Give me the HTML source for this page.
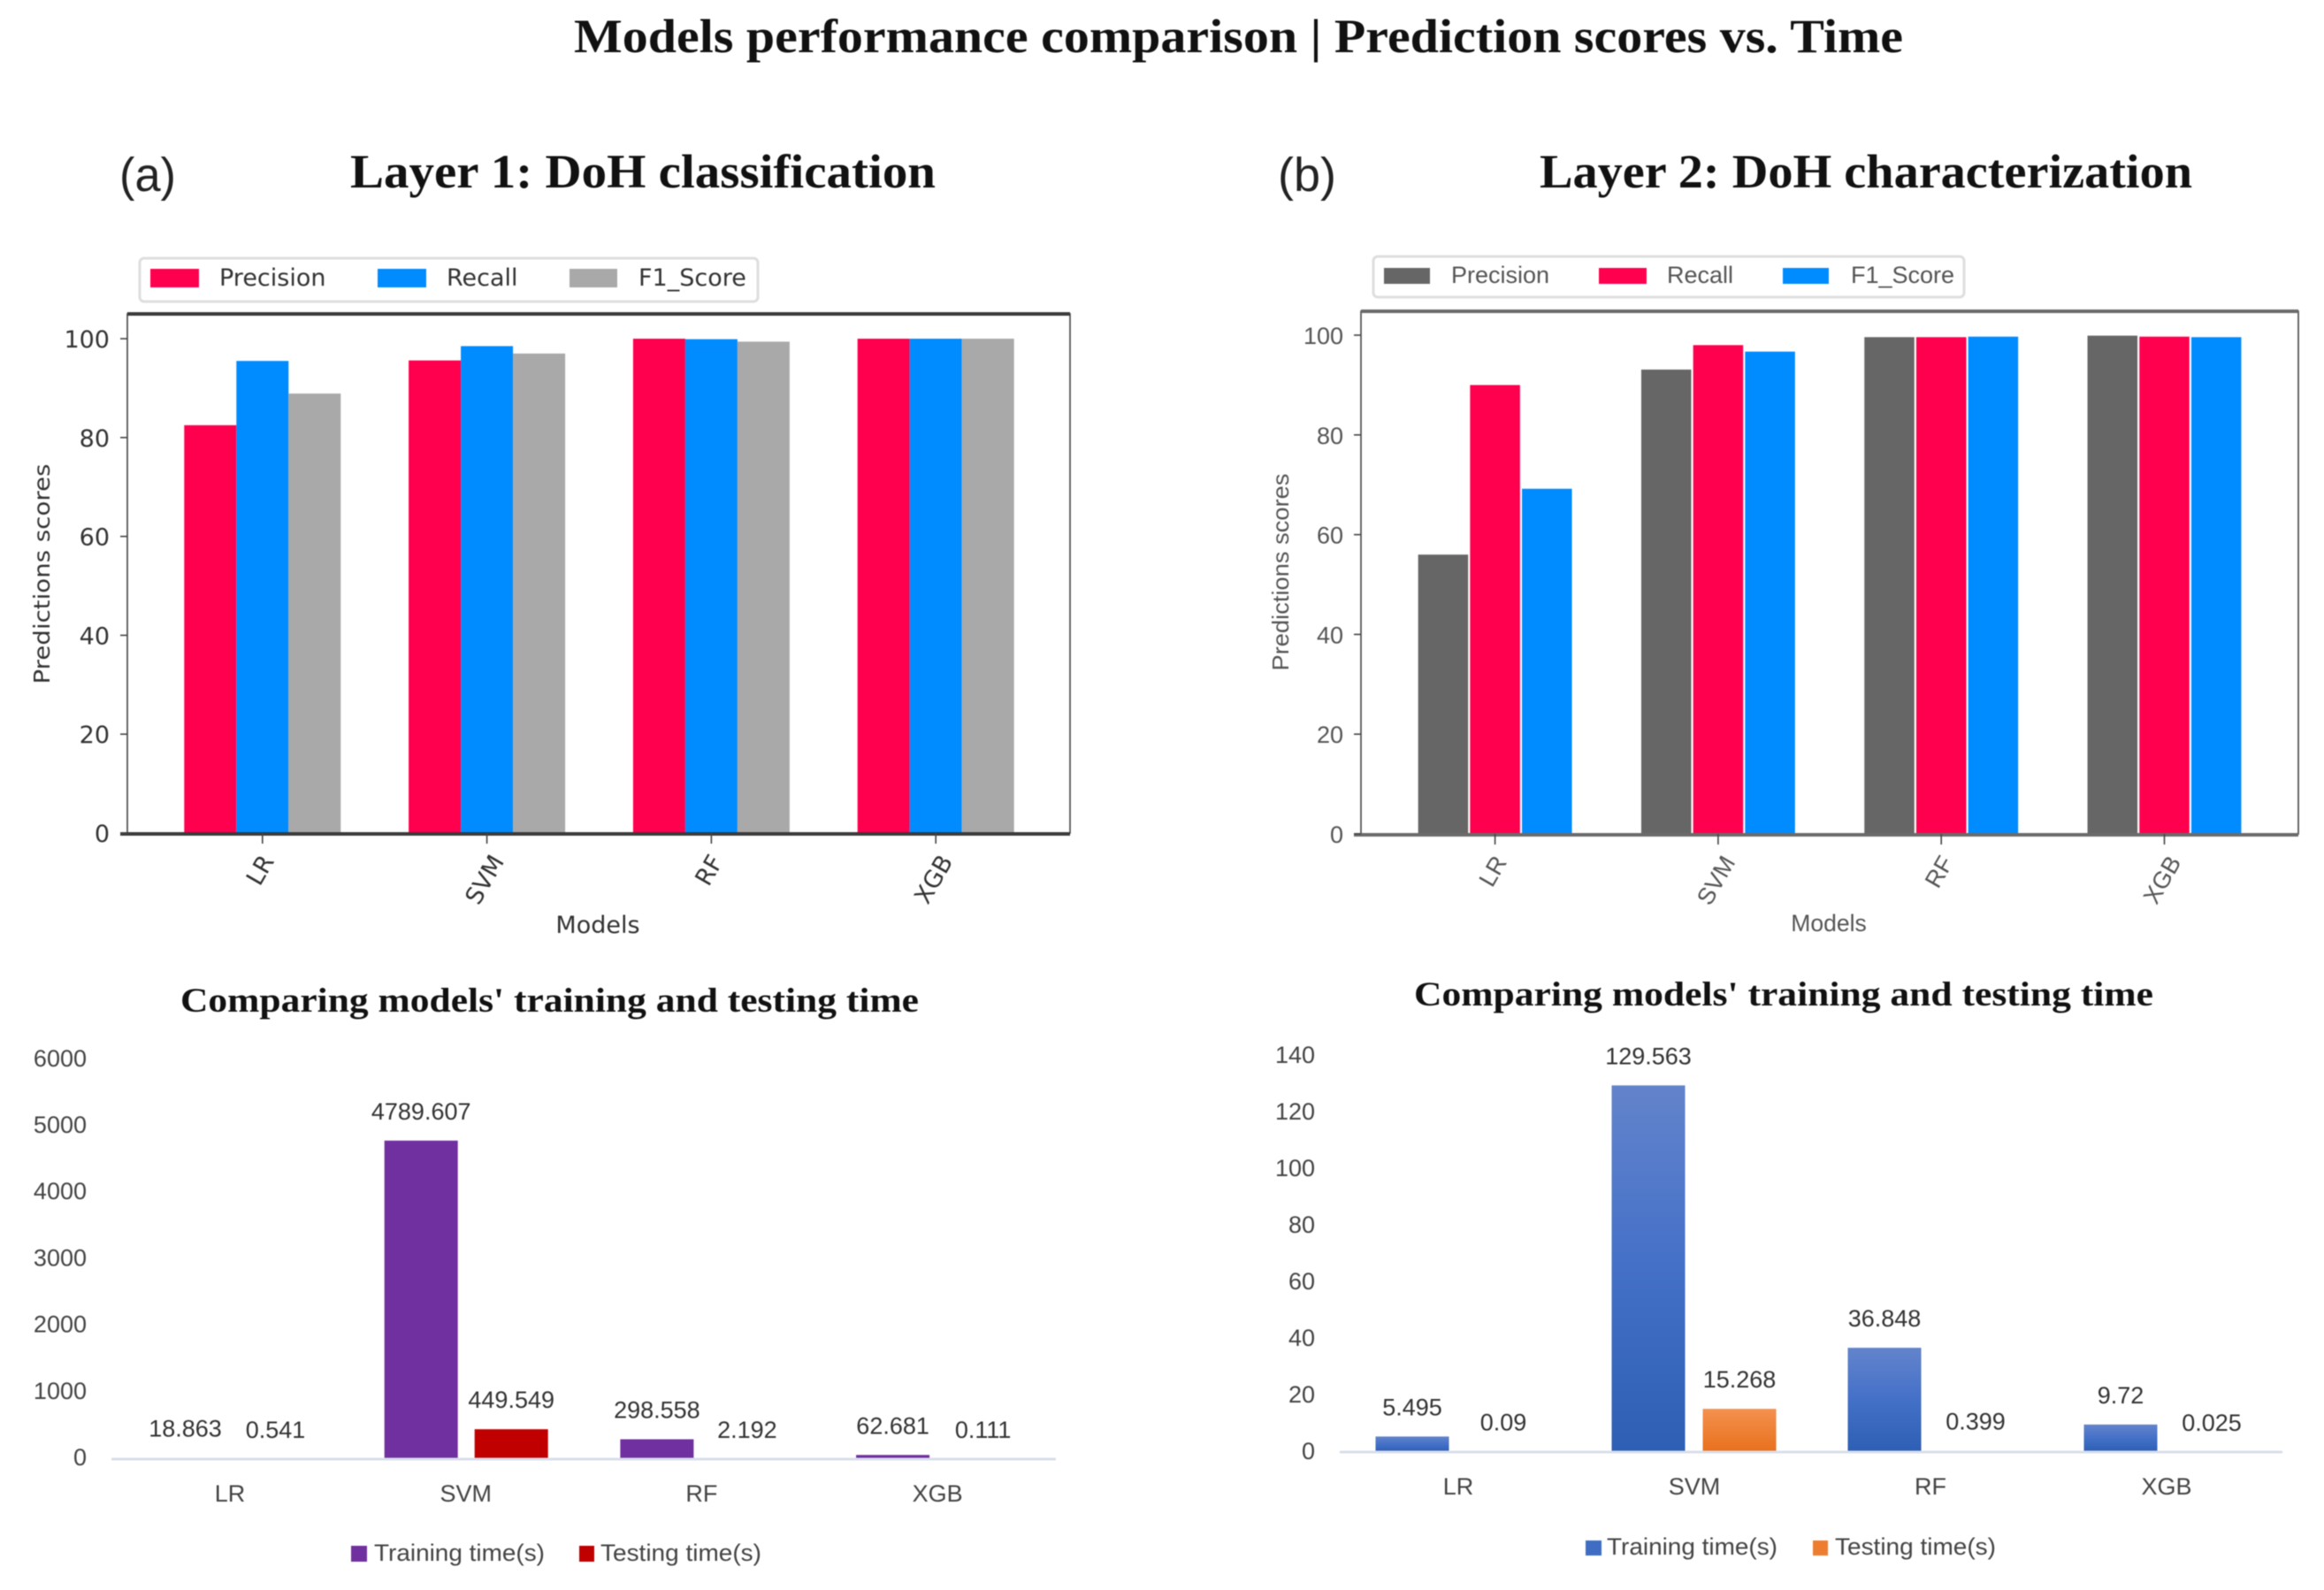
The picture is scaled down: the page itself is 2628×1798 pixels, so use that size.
<!DOCTYPE html>
<html lang="en">
<head>
<meta charset="utf-8">
<title>Models performance comparison</title>
<style>
html,body{margin:0;padding:0;background:#fff;width:2628px;height:1798px;overflow:hidden}
svg{display:block;filter:blur(0.6px)}
.serif{font-family:"Liberation Serif",serif;font-weight:bold;fill:#111}
.dj{font-family:"DejaVu Sans",sans-serif;fill:#333}
.ar{font-family:"Liberation Sans",sans-serif;fill:#444}
</style>
</head>
<body>
<svg id="figure" xmlns="http://www.w3.org/2000/svg" width="2628" height="1798" viewBox="0 0 2628 1798">
<defs>
<linearGradient id="blueGrad" x1="0" y1="0" x2="0" y2="1"><stop offset="0" stop-color="#6384cc"/><stop offset="0.5" stop-color="#4470c8"/><stop offset="1" stop-color="#2d5fb4"/></linearGradient>
<linearGradient id="orangeGrad" x1="0" y1="0" x2="0" y2="1"><stop offset="0" stop-color="#f4914f"/><stop offset="1" stop-color="#e8701c"/></linearGradient>
</defs>
<rect width="2628" height="1798" fill="#fff"/>

<text class="serif" x="649" y="59" font-size="54" textLength="1503" lengthAdjust="spacingAndGlyphs">Models performance comparison | Prediction scores vs. Time</text>
<text class="ar" style="fill:#222" x="135" y="216" font-size="54" textLength="64" lengthAdjust="spacingAndGlyphs">(a)</text>
<text class="serif" x="396" y="212" font-size="54" textLength="662" lengthAdjust="spacingAndGlyphs">Layer 1: DoH classification</text>
<text class="ar" style="fill:#222" x="1445" y="216" font-size="54" textLength="66" lengthAdjust="spacingAndGlyphs">(b)</text>
<text class="serif" x="1741" y="212" font-size="54" textLength="738" lengthAdjust="spacingAndGlyphs">Layer 2: DoH characterization</text>

<!-- Legend A -->
<g>
<rect x="158" y="292" width="699" height="49" rx="5" fill="#fff" stroke="#dedede" stroke-width="3"/>
<rect x="170" y="304" width="55" height="21" fill="#ff004f"/>
<text class="dj" x="248" y="323" font-size="27">Precision</text>
<rect x="427" y="304" width="55" height="21" fill="#008cff"/>
<text class="dj" x="505" y="323" font-size="27">Recall</text>
<rect x="644" y="304" width="54" height="21" fill="#a9a9a9"/>
<text class="dj" x="722" y="323" font-size="27">F1_Score</text>
</g>
<!-- Legend B -->
<g>
<rect x="1553" y="290" width="668" height="46" rx="5" fill="#fff" stroke="#dedede" stroke-width="3"/>
<rect x="1565" y="303" width="52" height="18" fill="#666666"/>
<text class="ar" style="fill:#555" x="1641" y="320" font-size="27">Precision</text>
<rect x="1808" y="303" width="54" height="18" fill="#ff004f"/>
<text class="ar" style="fill:#555" x="1885" y="320" font-size="27">Recall</text>
<rect x="2016" y="303" width="52" height="18" fill="#008cff"/>
<text class="ar" style="fill:#555" x="2093" y="320" font-size="27">F1_Score</text>
</g>

<text class="dj" transform="translate(56,649) rotate(-90)" text-anchor="middle" font-size="25" textLength="249" lengthAdjust="spacingAndGlyphs">Predictions scores</text>
<text class="ar" style="fill:#555" transform="translate(1457,647) rotate(-90)" text-anchor="middle" font-size="26" textLength="223" lengthAdjust="spacingAndGlyphs">Predictions scores</text>
<text class="dj" x="676" y="1055" text-anchor="middle" font-size="27">Models</text>
<text class="ar" style="fill:#555" x="2068" y="1053" text-anchor="middle" font-size="26.5">Models</text>

<text class="serif" x="204" y="1144" font-size="39" textLength="835" lengthAdjust="spacingAndGlyphs">Comparing models' training and testing time</text>
<text class="serif" x="1599" y="1137" font-size="39" textLength="836" lengthAdjust="spacingAndGlyphs">Comparing models' training and testing time</text>

<!-- Time legends -->
<g>
<rect x="397" y="1748" width="18" height="18" fill="#7030a0"/>
<text class="ar" x="423" y="1765" font-size="27" textLength="193" lengthAdjust="spacingAndGlyphs">Training time(s)</text>
<rect x="655" y="1748" width="17" height="18" fill="#c00000"/>
<text class="ar" x="679" y="1765" font-size="27" textLength="182" lengthAdjust="spacingAndGlyphs">Testing time(s)</text>
</g>
<g>
<rect x="1793" y="1742" width="18" height="17" fill="#3f6dc4"/>
<text class="ar" x="1817" y="1758" font-size="27" textLength="193" lengthAdjust="spacingAndGlyphs">Training time(s)</text>
<rect x="2050" y="1742" width="17" height="17" fill="#ed7d31"/>
<text class="ar" x="2075" y="1758" font-size="27" textLength="182" lengthAdjust="spacingAndGlyphs">Testing time(s)</text>
</g>
<g id="plots"></g>
</svg>

<script>
// Layer 1 scores
const modelsList = ["LR", "SVM", "RF", "XGB"];
const scoreTicks = [0, 20, 40, 60, 80, 100];
const l1Precision = [82.5, 95.6, 100, 100];
const l1Recall = [95.5, 98.5, 99.9, 100];
const l1F1 = [88.9, 97, 99.4, 100];
// Layer 2 scores
const l2Precision = [56, 93.1, 99.6, 99.9];
const l2Recall = [90, 98, 99.6, 99.7];
const l2F1 = [69.2, 96.7, 99.7, 99.6];
// Layer 1 times
const l1TimeTicks = [0, 1000, 2000, 3000, 4000, 5000, 6000];
const l1Training = [18.863, 4789.607, 298.558, 62.681];
const l1Testing = [0.541, 449.549, 2.192, 0.111];
// Layer 2 times
const l2TimeTicks = [0, 20, 40, 60, 80, 100, 120, 140];
const l2Training = [5.495, 129.563, 36.848, 9.72];
const l2Testing = [0.09, 15.268, 0.399, 0.025];

const NS = "http://www.w3.org/2000/svg";
const root = document.getElementById("plots");
function mk(tag, attrs, parent) {
  const e = document.createElementNS(NS, tag);
  for (const k in attrs) e.setAttribute(k, attrs[k]);
  parent.appendChild(e);
  return e;
}

function drawScores(id, o) {
  const g = mk("g", {}, root);
  
  
  const x = i => o.x0 + o.period * i;
  const y = v => o.y0 - o.unit * v;
  o.series.forEach((s, j) => {
    s.values.forEach((v, i) => {
      const r = mk("rect", {x: x(i) + (j - 1) * o.step - o.barW / 2, y: y(v), width: o.barW, height: o.y0 - y(v), fill: s.color}, g);
      
      
    });
  });
  const frame = mk("rect", {x: o.left, y: o.top, width: o.right - o.left, height: o.y0 - o.top, fill: "none", stroke: "#444", "stroke-width": 1.6}, g);
  
  
  const topSpine = mk("line", {x1: o.left, x2: o.right, y1: o.top, y2: o.top, stroke: o.spine, "stroke-width": 4}, g);
  
  
  const bottomSpine = mk("line", {x1: o.left - 8, x2: o.right, y1: o.y0 + 1, y2: o.y0 + 1, stroke: o.spine, "stroke-width": 4}, g);
  
  
  scoreTicks.forEach(t => {
    const m = mk("line", {x1: o.left - 8, x2: o.left, y1: y(t), y2: y(t), stroke: "#444", "stroke-width": 1.6}, g);
    
    
    const l = mk("text", {x: o.left - 20, y: y(t) + 10, "text-anchor": "end", "font-size": o.tickSize, class: o.font}, g);
    if (o.fill) l.style.fill = o.fill;
    l.textContent = t;
    
    
  });
  modelsList.forEach((c, i) => {
    const m = mk("line", {x1: x(i), x2: x(i), y1: o.y0, y2: o.y0 + 12, stroke: "#444", "stroke-width": 1.6}, g);
    
    
    const l = mk("text", {"text-anchor": "middle", "font-size": o.tickSize, class: o.font}, g);
    if (o.fill) l.style.fill = o.fill;
    l.textContent = c;
    const len = l.getComputedTextLength();
    const cy = o.y0 + 22 + (len * 0.866 + o.tickSize * 0.5 * 0.73) / 2;
    l.setAttribute("transform", "translate(" + (x(i) - 3) + "," + cy + ") rotate(-60) translate(0," + (o.tickSize * 0.36) + ")");
    
    
  });
}

function drawTimes(id, o) {
  const g = mk("g", {}, root);
  
  
  const x = i => o.x0 + o.period * i;
  const y = v => o.y0 - o.unit * v;
  o.ticks.forEach(t => {
    const l = mk("text", {x: o.tickRight, y: y(t) + o.tickDy, "text-anchor": "end", "font-size": 27, class: "ar"}, g);
    l.textContent = t;
    
    
  });
  o.series.forEach((s, j) => {
    s.values.forEach((v, i) => {
      const cx = x(i) + j * o.offset;
      const r = mk("rect", {x: cx - o.barW / 2, y: y(v), width: o.barW, height: o.y0 - y(v), fill: s.color}, g);
      
      
      const l = mk("text", {x: cx, y: y(v) - 24, "text-anchor": "middle", "font-size": 27, class: "ar"}, g);
      l.style.fill = "#333";
      l.textContent = v;
      
      
    });
  });
  const axis = mk("line", {x1: o.left, x2: o.right, y1: o.y0, y2: o.y0, stroke: "#d9dfea", "stroke-width": 3}, g);
  
  
  modelsList.forEach((c, i) => {
    const l = mk("text", {x: x(i) + o.offset / 2 + o.catShift, y: o.catY, "text-anchor": "middle", "font-size": 27, class: "ar"}, g);
    l.textContent = c;
    
    
  });
}

drawScores("scores-chart-layer-1", {
  x0: 296.8, period: 253.8, step: 59, barW: 59, y0: 942, unit: 5.59, left: 144, right: 1210, top: 355,
  tickSize: 27, font: "dj", spine: "#3a3a3a",
  series: [{values: l1Precision, color: "#ff004f"}, {values: l1Recall, color: "#008cff"}, {values: l1F1, color: "#a9a9a9"}]
});
drawScores("scores-chart-layer-2", {
  x0: 1690.6, period: 252.3, step: 58.7, barW: 56.5, y0: 943, unit: 5.64, left: 1539, right: 2599, top: 352,
  tickSize: 27, font: "ar", fill: "#555", spine: "#6b6b6b",
  series: [{values: l2Precision, color: "#666666"}, {values: l2Recall, color: "#ff004f"}, {values: l2F1, color: "#008cff"}]
});
drawTimes("time-chart-layer-1", {
  x0: 209.5, period: 266.7, offset: 102, barW: 83, y0: 1650, unit: 0.0752, left: 126, right: 1194,
  tickRight: 98, tickDy: 7, catY: 1698, catShift: -0.5, ticks: l1TimeTicks,
  series: [{values: l1Training, color: "#7030a0"}, {values: l1Testing, color: "#c00000"}]
});
drawTimes("time-chart-layer-2", {
  x0: 1597, period: 267, offset: 103, barW: 83, y0: 1642, unit: 3.2, left: 1515, right: 2581,
  tickRight: 1487, tickDy: 8, catY: 1690, catShift: 0.5, ticks: l2TimeTicks,
  series: [{values: l2Training, color: "url(#blueGrad)"}, {values: l2Testing, color: "url(#orangeGrad)"}]
});
</script>
</body>
</html>
